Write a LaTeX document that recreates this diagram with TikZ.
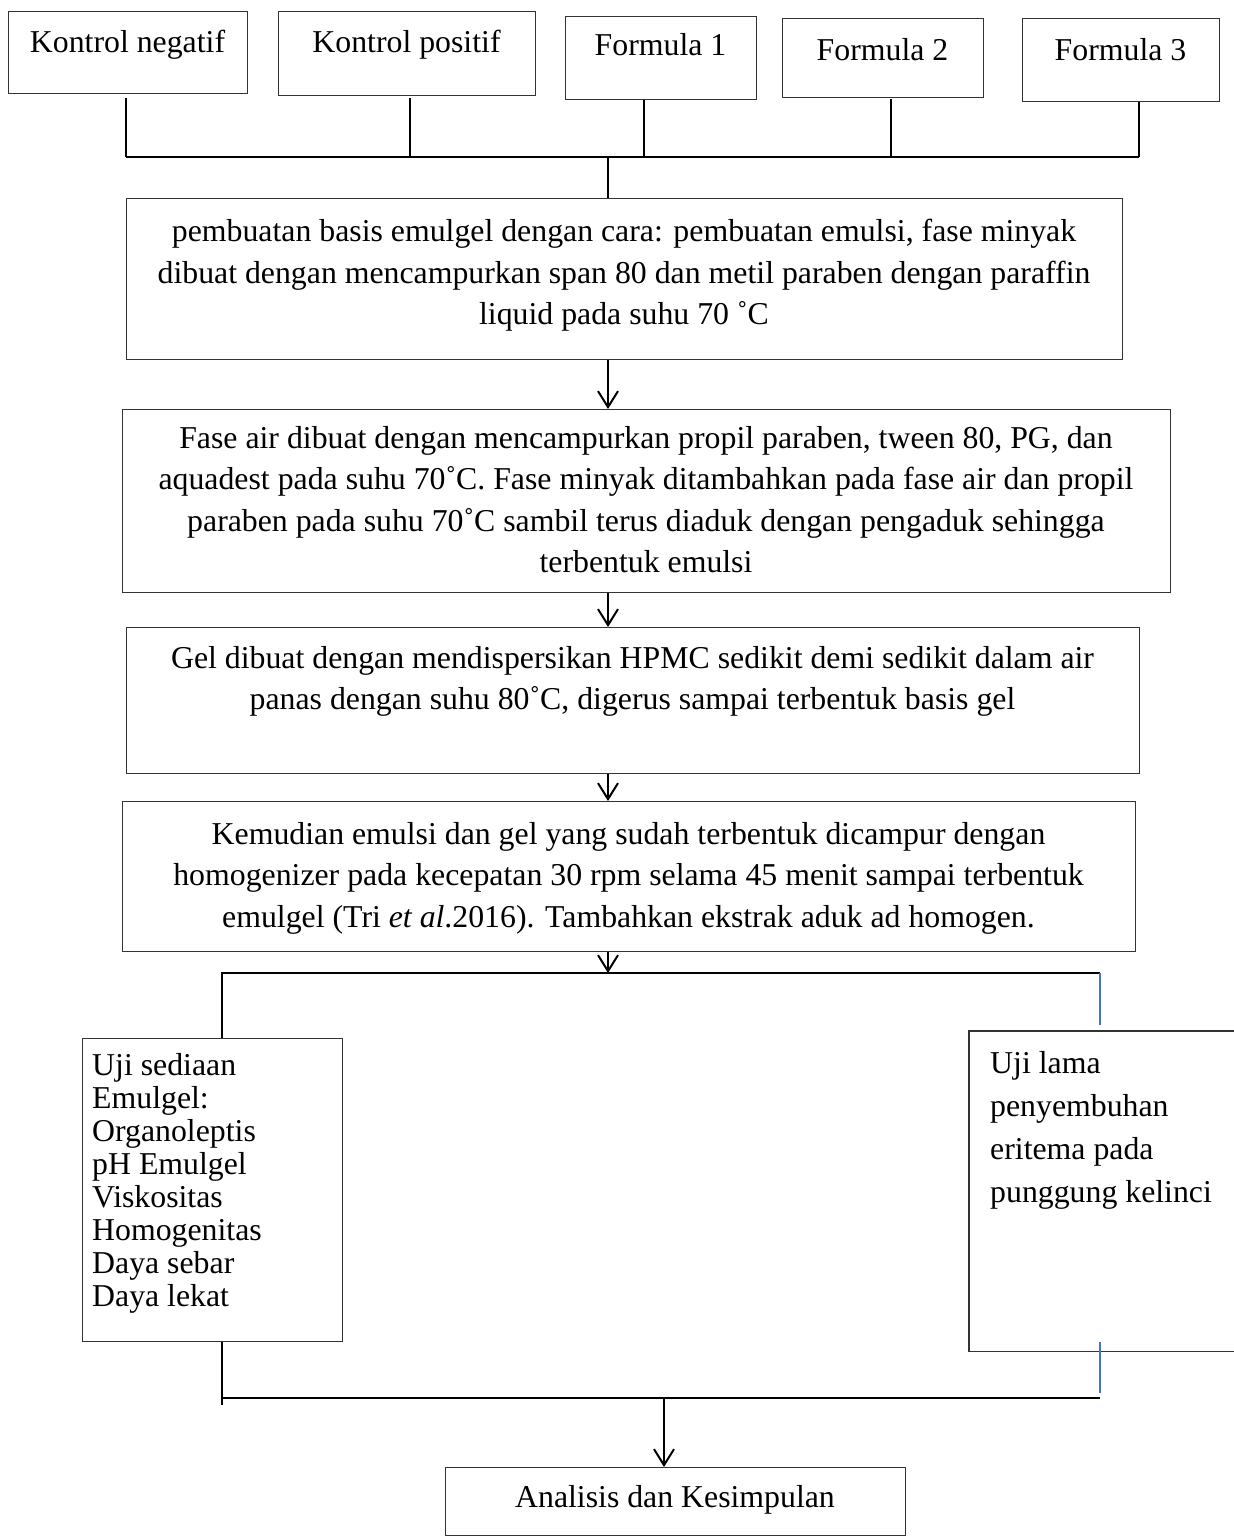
\documentclass[tikz,border=0pt]{standalone}
\usepackage{fontspec}
\setmainfont{Liberation Serif}
\usetikzlibrary{arrows.meta}
\definecolor{wordblue}{HTML}{4472C4}
\begin{document}
\begin{tikzpicture}[x=1pt,y=-1pt,
  box/.style={draw=black!80, line width=1.4pt, inner sep=0pt, anchor=north west},
  txt/.style={inner sep=0pt, align=center, anchor=north, font=\fontsize{31.8}{41.5}\selectfont},
  ltxt/.style={inner sep=0pt, align=left, anchor=north west},
  conn/.style={line width=2pt, black},
  arr/.style={conn, -{Straight Barb[length=16pt, width=20pt, line width=2pt]}},
  blueline/.style={line width=2pt, wordblue}]
\useasboundingbox (0,0) rectangle (1234,1537);

% top boxes
\node[box, minimum width=239pt, minimum height=82pt] (kn) at (8,11) {};
\node[txt] (knt) at (127.5,30) {Kontrol negatif};
\node[box, minimum width=257pt, minimum height=84pt] (kp) at (278,11) {};
\node[txt] (kpt) at (406.5,30) {Kontrol positif};
\node[box, minimum width=191pt, minimum height=83pt] (f1) at (565,16) {};
\node[txt] (f1t) at (660.5,33) {Formula 1};
\node[box, minimum width=201pt, minimum height=79pt] (f2) at (782,18) {};
\node[txt] (f2t) at (882.5,38) {Formula 2};
\node[box, minimum width=197pt, minimum height=83pt] (f3) at (1022,18) {};
\node[txt] (f3t) at (1120.5,38) {Formula 3};

% bus coordinates
\coordinate (bkn) at (126,157);
\coordinate (bkp) at (410,157);
\coordinate (bf1) at (644,157);
\coordinate (bf2) at (891,157);
\coordinate (bf3) at (1139,157);
\coordinate (bmid) at (608,157);

\draw[conn] ([yshift=-4pt]kn.south -| bkn) -- (bkn);
\draw[conn] ([yshift=-2pt]kp.south -| bkp) -- (bkp);
\draw[conn] (f1.south -| bf1) -- (bf1);
\draw[conn] ([yshift=-1pt]f2.south -| bf2) -- (bf2);
\draw[conn] (f3.south -| bf3) -- (bf3);
\draw[conn] (bkn) -- (bf3);

% main boxes
\node[box, minimum width=996pt, minimum height=161pt] (b1) at (126,198) {};
\node[txt] (b1t) at (624,219) {pembuatan basis emulgel dengan cara: pembuatan emulsi, fase minyak\\
dibuat dengan mencampurkan span 80 dan metil paraben dengan paraffin\\
liquid pada suhu 70 ˚C};

\node[box, minimum width=1048pt, minimum height=183pt] (b2) at (122,409) {};
\node[txt] (b2t) at (646,426) {Fase air dibuat dengan mencampurkan propil paraben, tween 80, PG, dan\\
aquadest pada suhu 70˚C. Fase minyak ditambahkan pada fase air dan propil\\
paraben pada suhu 70˚C sambil terus diaduk dengan pengaduk sehingga\\
terbentuk emulsi};

\node[box, minimum width=1013pt, minimum height=146pt] (b3) at (126,627) {};
\node[txt] (b3t) at (632.5,646) {Gel dibuat dengan mendispersikan HPMC sedikit demi sedikit dalam air\\
panas dengan suhu 80˚C, digerus sampai terbentuk basis gel};

\node[box, minimum width=1013pt, minimum height=150pt] (b4) at (122,801) {};
\node[txt] (b4t) at (628.5,822) {Kemudian emulsi dan gel yang sudah terbentuk dicampur dengan\\
homogenizer pada kecepatan 30 rpm selama 45 menit sampai terbentuk\\
emulgel (Tri \textit{et al}.2016). Tambahkan ekstrak aduk ad homogen.};

\draw[conn] (bmid) -- (bmid |- b1.north);
\draw[arr] (b1.south -| bmid) -- (b2.north -| bmid);
\draw[arr] (b2.south -| bmid) -- (b3.north -| bmid);
\draw[arr] (b3.south -| bmid) -- (b4.north -| bmid);

% lower boxes
\node[box, minimum width=260pt, minimum height=303pt] (us) at (82,1038) {};
\node[txt, ltxt, font=\fontsize{31.8}{33}\selectfont] (ust) at (92,1053) {Uji sediaan\\
Emulgel:\\
Organoleptis\\
pH Emulgel\\
Viskositas\\
Homogenitas\\
Daya sebar\\
Daya lekat};

\node[box, draw=none, minimum width=265pt, minimum height=319pt] (ul) at (969,1031) {};
\draw[draw=black!80, line width=1.4pt] (ul.north east) -- (ul.north west) -- (ul.south west) -- (ul.south east);
\node[txt, ltxt, font=\fontsize{31.8}{43}\selectfont] (ult) at (990,1051) {Uji lama\\
penyembuhan\\
eritema pada\\
punggung kelinci};

\coordinate (cL) at (222,973);
\coordinate (cR) at (1100,973);
\draw[arr] (b4.south -| bmid) -- (bmid |- cL);
\draw[conn] (us.north -| cL) -- (cL) -- (cR);
\draw[blueline] (cR) -- ([yshift=6pt]ul.north -| cR);

\coordinate (dL) at (222,1398);
\coordinate (dR) at (1100,1398);
\coordinate (dM) at (664,1398);
\draw[conn] (us.south -| dL) -- ([yshift=-7pt]dL);
\draw[conn] (dL) -- (dR);
\draw[blueline] ([yshift=9pt]ul.south -| dR) -- ([yshift=5pt]dR);

\node[box, minimum width=460pt, minimum height=68pt] (an) at (445,1467) {};
\node[txt] (ant) at (675,1485) {Analisis dan Kesimpulan};
\draw[arr] (dM) -- (an.north -| dM);
\end{tikzpicture}
\end{document}
